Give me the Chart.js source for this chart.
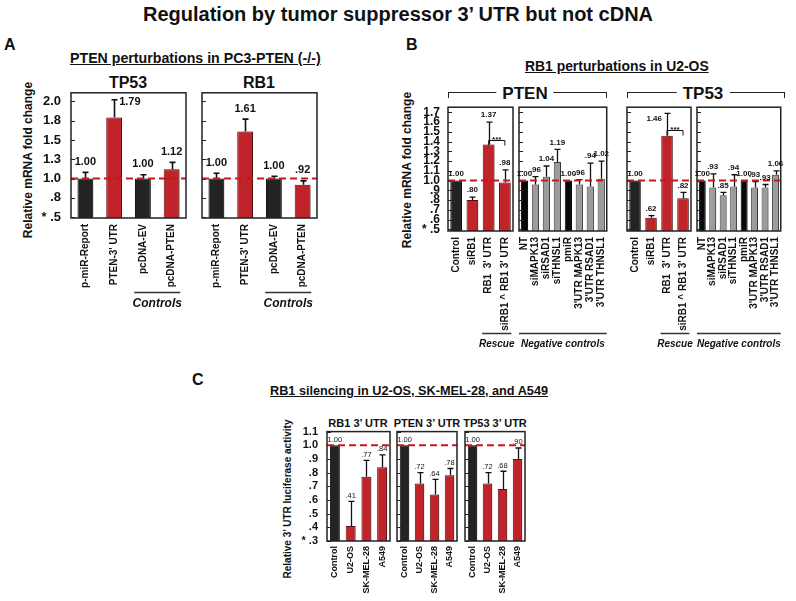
<!DOCTYPE html>
<html><head><meta charset="utf-8">
<script src="https://cdn.jsdelivr.net/npm/chart.js@4.4.1/dist/chart.umd.min.js"></script>
<style>
html,body{margin:0;padding:0;background:#fff;}
body{width:796px;height:601px;position:relative;overflow:hidden;font-family:"Liberation Sans",Arial,sans-serif;color:#111;}
.t{position:absolute;font-weight:bold;white-space:nowrap;line-height:1;}
.u{text-decoration:underline;}
.rot{position:absolute;font-weight:bold;white-space:nowrap;line-height:1;transform:translate(-50%,-50%) rotate(-90deg);}
.ctr{transform:translate(-50%,-50%);}
.brk{position:absolute;border:1.5px solid #222;border-bottom:none;height:5px;}
.hdr{position:absolute;font-weight:bold;font-size:17px;background:#fff;padding:0 6px;line-height:1;transform:translate(-50%,-50%);}
canvas{position:absolute;}
</style></head><body>

<div class="t" style="left:0;width:796px;text-align:center;top:4px;font-size:20px;">Regulation by tumor suppressor 3’ UTR but not cDNA</div>
<div class="t" style="left:4px;top:37px;font-size:16px;">A</div>
<div class="t" style="left:406px;top:37px;font-size:16px;">B</div>
<div class="t" style="left:192px;top:372px;font-size:16px;">C</div>

<div class="t u" style="left:70px;top:51px;font-size:14.2px;">PTEN perturbations in PC3-PTEN (-/-)</div>
<div class="t u" style="left:525px;top:60px;font-size:13.9px;">RB1 perturbations in U2-OS</div>
<div class="t u" style="left:270px;top:385px;font-size:12.7px;">RB1 silencing in U2-OS, SK-MEL-28, and A549</div>

<div class="t ctr" style="left:128px;top:83px;font-size:16px;">TP53</div>
<div class="t ctr" style="left:259px;top:83px;font-size:16px;">RB1</div>

<div class="brk" style="left:448px;top:92px;width:157px;"></div>
<div class="hdr" style="left:525px;top:93px;">PTEN</div>
<div class="brk" style="left:627px;top:92px;width:156px;"></div>
<div class="hdr" style="left:703px;top:93px;">TP53</div>

<div class="t ctr" style="left:358px;top:423px;font-size:11px;">RB1 3’ UTR</div>
<div class="t ctr" style="left:427px;top:423px;font-size:11px;">PTEN 3’ UTR</div>
<div class="t ctr" style="left:495px;top:423px;font-size:11px;">TP53 3’ UTR</div>

<div class="rot" style="left:28px;top:160px;font-size:12px;">Relative mRNA fold change</div>
<div class="rot" style="left:407px;top:170px;font-size:12px;">Relative mRNA fold change</div>
<div class="rot" style="left:288px;top:499px;font-size:10px;">Relative 3’ UTR luciferase activity</div>

<script>
// ---------- DATA ----------
// Panel A (PC3-PTEN -/-)
const aLabels = ['p-miR-Report', "PTEN-3' UTR", 'pcDNA-EV', 'pcDNA-PTEN'];
const aTP53 = [1.00, 1.79, 1.00, 1.12];
const aTP53Err = [0.08, 0.23, 0.05, 0.09];
const aRB1 = [1.00, 1.61, 1.00, 0.92];
const aRB1Err = [0.07, 0.16, 0.03, 0.05];
const aTicks = [0.5, 0.75, 1.0, 1.25, 1.5, 1.75, 2.0];
const aTickLabels = ['* .5', '.8', '1.0', '1.3', '1.5', '1.8', '2.0'];

// Panel B (U2-OS)
const bRescueLabels = ['Control', 'siRB1', "RB1  3' UTR", "siRB1 ^ RB1 3' UTR"];
const bNegLabels = ['NT', 'siMAPK13', 'siRSAD1', 'siTHNSL1', 'pmiR', "3'UTR MAPK13", "3'UTR RSAD1", "3'UTR THNSL1"];
const bPtenRescue = [1.00, 0.80, 1.37, 0.98];
const bPtenRescueErr = [0, 0.03, 0.23, 0.13];
const bPtenNeg = [1.00, 0.96, 1.04, 1.19, 1.00, 0.96, 0.94, 1.02];
const bPtenNegErr = [0, 0.08, 0.11, 0.13, 0, 0.05, 0.24, 0.18];
const bTp53Rescue = [1.00, 0.62, 1.46, 0.82];
const bTp53RescueErr = [0, 0.02, 0.23, 0.06];
const bTp53Neg = [1.00, 0.93, 0.85, 0.94, 1.00, 0.93, 0.93, 1.06];
const bTp53NegErr = [0, 0.14, 0.03, 0.12, 0, 0.06, 0.03, 0.04];
const bTicks = [0.5, 0.6, 0.7, 0.8, 0.9, 1.0, 1.1, 1.2, 1.3, 1.4, 1.5, 1.6, 1.7];
const bTickLabels = ['* .5', '.6', '.7', '.8', '.9', '1.0', '1.1', '1.2', '1.3', '1.4', '1.5', '1.6', '1.7'];

// Panel C (luciferase)
const cLabels = ['Control', 'U2-OS', 'SK-MEL-28', 'A549'];
const cRB1 = [1.00, 0.41, 0.77, 0.84];
const cRB1Err = [0, 0.18, 0.12, 0.09];
const cPTEN = [1.00, 0.72, 0.64, 0.78];
const cPTENErr = [0, 0.08, 0.11, 0.05];
const cTP53 = [1.00, 0.72, 0.68, 0.90];
const cTP53Err = [0, 0.08, 0.13, 0.08];
const cTicks = [0.3, 0.4, 0.5, 0.6, 0.7, 0.8, 0.9, 1.0, 1.1];
const cTickLabels = ['* .3', '.4', '.5', '.6', '.7', '.8', '.9', '1.0', '1.1'];

// ---------- STYLE ----------
const FONT = '"Liberation Sans", Arial, sans-serif';
const COLORS = {dark:'#232323', red:'#c1232a', gray:'#9c9c9c', black:'#080808'};
const BORDERS = {dark:'#111111', red:'#661010', gray:'#444444', black:'#000000'};
function fmt(v){ const s = v.toFixed(2); return v >= 1 ? s : s.replace(/^0/, ''); }

function makeAnnot(s){
  return {
    id:'annot',
    beforeDatasetsDraw(chart){
      const ctx = chart.ctx;
      ctx.save();
      ctx.shadowColor = 'rgba(0,0,0,0.30)'; ctx.shadowBlur = 4; ctx.shadowOffsetX = 3; ctx.shadowOffsetY = 0;
    },
    afterDatasetsDraw(chart){
      const ctx = chart.ctx, ca = chart.chartArea, ys = chart.scales.y;
      ctx.restore();
      const meta = chart.getDatasetMeta(0);
      const catW = ca.width / s.labels.length;
      ctx.save();
      // inner ticks
      ctx.strokeStyle = '#222'; ctx.lineWidth = 1;
      s.ticks.forEach(v => { const y = Math.round(ys.getPixelForValue(v)) + 0.5; ctx.beginPath(); ctx.moveTo(ca.left, y); ctx.lineTo(ca.left + 4, y); ctx.stroke(); });
      // error bars
      ctx.strokeStyle = '#111'; ctx.lineWidth = s.errW;
      s.values.forEach((v, i) => {
        const e = s.errs[i]; if (!e) return;
        const x = Math.round(meta.data[i].x) + 0.5;
        const ya = ys.getPixelForValue(v), yb = ys.getPixelForValue(v + e);
        ctx.beginPath(); ctx.moveTo(x, ya); ctx.lineTo(x, yb);
        ctx.moveTo(x - s.cap, yb); ctx.lineTo(x + s.cap, yb); ctx.stroke();
      });
      // reference line
      const yr = ys.getPixelForValue(1.0);
      ctx.strokeStyle = '#c8161d'; ctx.lineWidth = 2; ctx.setLineDash([7, 4]);
      ctx.beginPath(); ctx.moveTo(ca.left, yr); ctx.lineTo(ca.right, yr); ctx.stroke();
      ctx.setLineDash([]);
      // box
      ctx.strokeStyle = '#222'; ctx.lineWidth = 1.5;
      ctx.strokeRect(ca.left, ca.top, ca.width, ca.height);
      // value labels
      ctx.fillStyle = '#111'; ctx.font = s.valFont;
      s.values.forEach((v, i) => {
        const x = meta.data[i].x;
        const yt = ys.getPixelForValue(v + (s.errs[i] || 0));
        const side = s.side && s.side[i];
        if (side === 'right') { ctx.textAlign = 'left'; ctx.textBaseline = 'middle'; ctx.fillText(fmt(v), x + s.cap + 2, yt + 2); }
        else if (side === 'left') { ctx.textAlign = 'right'; ctx.textBaseline = 'middle'; ctx.fillText(fmt(v), x - s.cap - 2, yt + 5); }
        else { ctx.textAlign = 'center'; ctx.textBaseline = 'bottom'; ctx.fillText(fmt(v), x, yt - s.valGap); }
      });
      // significance bracket
      if (s.sig) {
        const x1 = meta.data[s.sig.from].x, x2 = meta.data[s.sig.to].x;
        const y = Math.round(ys.getPixelForValue(s.sig.y)) + 0.5;
        ctx.strokeStyle = '#111'; ctx.lineWidth = 1;
        ctx.beginPath(); ctx.moveTo(x1, y + 5); ctx.lineTo(x1, y); ctx.lineTo(x2, y); ctx.lineTo(x2, y + 5); ctx.stroke();
        ctx.font = 'bold 8px ' + FONT; ctx.textAlign = 'center'; ctx.textBaseline = 'bottom';
        ctx.fillText('***', (x1 + x2) / 2, y + 3);
      }
      // group labels
      (s.groups || []).forEach(g => {
        const xa = meta.data[g.from].x - catW * g.ext, xb = meta.data[g.to].x + catW * g.ext;
        const ly = Math.round(ca.bottom + g.lineY) + 0.5;
        ctx.strokeStyle = '#333'; ctx.lineWidth = 1.5;
        ctx.beginPath(); ctx.moveTo(xa, ly); ctx.lineTo(xb, ly); ctx.stroke();
        ctx.font = g.font; ctx.textAlign = 'center'; ctx.textBaseline = 'middle';
        ctx.fillText(g.text, (xa + xb) / 2, ca.bottom + g.textY);
      });
      ctx.restore();
    }
  };
}

function build(s){
  const cv = document.createElement('canvas');
  const left = s.pl - s.yW, top = s.pt - s.padT;
  const W = s.pr - left + s.padR, H = s.pb + s.xH - top;
  cv.width = W; cv.height = H;
  cv.style.left = left + 'px'; cv.style.top = top + 'px';
  cv.style.width = W + 'px'; cv.style.height = H + 'px';
  document.body.appendChild(cv);
  const chart = new Chart(cv, {
    type: 'bar',
    data: { labels: s.labels, datasets: [{ data: s.values,
      backgroundColor: s.colors.map(c => COLORS[c]), borderColor: s.colors.map(c => BORDERS[c]), borderWidth: 1,
      barPercentage: s.barPct, categoryPercentage: 1 }] },
    options: {
      responsive: false, animation: false, devicePixelRatio: 1,
      layout: { padding: { top: s.padT, right: s.padR, left: 0, bottom: 0 } },
      plugins: { legend: { display: false }, tooltip: { enabled: false }, title: { display: false } },
      scales: {
        x: { grid: { display: false, drawTicks: false }, border: { display: false },
          ticks: { autoSkip: false, minRotation: 90, maxRotation: 90, padding: s.xPad, color: '#111',
            font: { family: FONT, weight: 'bold', size: s.xFont } },
          afterFit(sc) { sc.height = s.xH; } },
        y: { min: s.min, max: s.max, grid: { display: false, drawTicks: false }, border: { display: false },
          afterBuildTicks(sc) { sc.ticks = s.ticks.map(v => ({ value: v })); },
          ticks: { autoSkip: false, padding: s.yPad, color: '#111', font: { family: FONT, weight: 'bold', size: s.yFont },
            callback: (v) => { if (!s.showY) return ''; const i = s.ticks.findIndex(t => Math.abs(t - v) < 1e-6); return i < 0 ? '' : s.tickLabels[i]; } },
          afterFit(sc) { sc.width = s.yW; } }
      }
    },
    plugins: [makeAnnot(s)]
  });
  const ca = chart.chartArea;
  cv.style.left = (s.pl - ca.left) + 'px';
  cv.style.top = (s.pt - ca.top) + 'px';
  return chart;
}

// ---------- PANEL A ----------
const aBase = { pt: 93, pb: 224, min: 0.49, max: 2.11, ticks: aTicks, tickLabels: aTickLabels,
  padT: 12, padR: 12, xH: 100, xPad: 6, xFont: 10, yFont: 13, yPad: 10, barPct: 0.55, cap: 3, errW: 1.6,
  valFont: 'bold 11px ' + FONT, valGap: 5, labels: aLabels, colors: ['dark', 'red', 'dark', 'red'],
  groups: [{ from: 2, to: 3, text: 'Controls', lineY: 74, textY: 86, ext: 0.3, font: 'italic bold 12px ' + FONT }] };
build(Object.assign({}, aBase, { pl: 71, pr: 186, yW: 45, showY: true, values: aTP53, errs: aTP53Err, side: { 1: 'right' } }));
build(Object.assign({}, aBase, { pl: 202, pr: 317, yW: 10, showY: false, values: aRB1, errs: aRB1Err }));

// ---------- PANEL B ----------
const bBase = { pt: 107, pb: 234, min: 0.483, max: 1.753, ticks: bTicks, tickLabels: bTickLabels,
  padT: 12, padR: 12, xH: 125, xPad: 6, xFont: 10, yFont: 12, yPad: 8, cap: 3, errW: 1.3,
  valFont: 'bold 8px ' + FONT, valGap: 3 };
const rescueGroup = [{ from: 2, to: 3, text: 'Rescue', lineY: 102, textY: 113, ext: 0.4, font: 'italic bold 10px ' + FONT }];
const negGroup = [{ from: 0, to: 7, text: 'Negative controls', lineY: 102, textY: 113, ext: 0.5, font: 'italic bold 10px ' + FONT }];
build(Object.assign({}, bBase, { pl: 448, pr: 513, yW: 40, showY: true, labels: bRescueLabels, values: bPtenRescue, errs: bPtenRescueErr,
  colors: ['dark', 'red', 'red', 'red'], barPct: 0.72, groups: rescueGroup, sig: { from: 2, to: 3, y: 1.42 } }));
build(Object.assign({}, bBase, { pl: 519, pr: 608, yW: 8, showY: false, labels: bNegLabels, values: bPtenNeg, errs: bPtenNegErr,
  colors: ['black', 'gray', 'gray', 'gray', 'black', 'gray', 'gray', 'gray'], barPct: 0.66, groups: negGroup }));
build(Object.assign({}, bBase, { pl: 627, pr: 691, yW: 8, showY: false, labels: bRescueLabels, values: bTp53Rescue, errs: bTp53RescueErr,
  colors: ['dark', 'red', 'red', 'red'], barPct: 0.72, groups: rescueGroup, sig: { from: 2, to: 3, y: 1.52 }, side: { 2: 'left' } }));
build(Object.assign({}, bBase, { pl: 697, pr: 786, yW: 8, showY: false, padR: 8, labels: bNegLabels, values: bTp53Neg, errs: bTp53NegErr,
  colors: ['black', 'gray', 'gray', 'gray', 'black', 'gray', 'gray', 'gray'], barPct: 0.66, groups: negGroup }));

// ---------- PANEL C ----------
const cBase = { pt: 432, pb: 547, min: 0.3, max: 1.1, ticks: cTicks, tickLabels: cTickLabels,
  padT: 10, padR: 10, xH: 54, xPad: 5, xFont: 9, yFont: 11, yPad: 9, cap: 3, errW: 1.3, barPct: 0.63,
  valFont: '7.5px ' + FONT, valGap: 2, labels: cLabels, colors: ['dark', 'red', 'red', 'red'] };
build(Object.assign({}, cBase, { pl: 327, pr: 390, yW: 35, showY: true, values: cRB1, errs: cRB1Err }));
build(Object.assign({}, cBase, { pl: 397, pr: 457, yW: 6, showY: false, values: cPTEN, errs: cPTENErr }));
build(Object.assign({}, cBase, { pl: 465, pr: 525, yW: 6, showY: false, values: cTP53, errs: cTP53Err }));
</script>
</body></html>
